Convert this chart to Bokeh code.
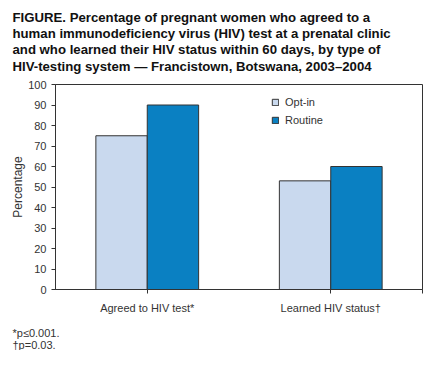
from bokeh.plotting import figure
from bokeh.models import Title, FixedTicker, Range1d, Legend, LegendItem
from bokeh.embed import file_html
from bokeh.resources import INLINE

categories = ["Agreed to HIV test*", "Learned HIV status\u2020"]
opt_in = [75, 53]
routine = [90, 60]
series_names = ["Opt-in", "Routine"]
y_ticks = [0, 10, 20, 30, 40, 50, 60, 70, 80, 90, 100]

title_lines = [
    "FIGURE. Percentage of pregnant women who agreed to a",
    "human immunodeficiency virus (HIV) test at a prenatal clinic",
    "and who learned their HIV status within 60 days, by type of",
    "HIV-testing system \u2014 Francistown, Botswana, 2003\u20132004",
]
footnotes = ["*p\u22640.001.", "\u2020p=0.03."]

FONT = "Liberation Sans"
DARK = "#333333"
C_OPT = "#c9d9ee"
C_ROUT = "#0a80c2"

p = figure(width=423, height=350, output_backend="svg", toolbar_location=None,
           x_range=Range1d(0, 2), y_range=Range1d(0, 100),
           min_border_left=55, min_border_right=1, min_border_top=84, min_border_bottom=61)

bw = 0.28
centers = [i + 0.5 for i in range(len(categories))]
x_opt = [c - bw / 2 for c in centers]
x_rout = [c + bw / 2 for c in centers]
r1 = p.vbar(x=x_opt, top=opt_in, width=bw, fill_color=C_OPT, line_color=DARK, line_width=1)
r2 = p.vbar(x=x_rout, top=routine, width=bw, fill_color=C_ROUT, line_color=DARK, line_width=1)

legend = Legend(items=[LegendItem(label=series_names[0], renderers=[r1]),
                       LegendItem(label=series_names[1], renderers=[r2])],
                location=(216, 162), orientation="vertical",
                glyph_width=8, glyph_height=8, label_height=14, spacing=4,
                padding=0, margin=0, border_line_color=None, background_fill_alpha=0,
                label_text_font=FONT, label_text_font_size="11px", label_text_color=DARK,
                label_standoff=6)
p.add_layout(legend, "center")

p.xgrid.visible = False
p.ygrid.visible = False
p.outline_line_color = DARK
p.outline_line_width = 1

p.yaxis.ticker = FixedTicker(ticks=y_ticks)
p.yaxis.axis_label = "Percentage"
p.yaxis.axis_label_text_font = FONT
p.yaxis.axis_label_text_font_style = "normal"
p.yaxis.axis_label_text_font_size = "12px"
p.yaxis.axis_label_text_color = DARK
p.yaxis.axis_label_standoff = 0
p.yaxis.major_label_text_font = FONT
p.yaxis.major_label_text_font_size = "11px"
p.yaxis.major_label_text_color = DARK
p.yaxis.major_label_standoff = 5

p.xaxis.ticker = FixedTicker(ticks=centers + [2.0])
p.xaxis.major_label_overrides = {centers[0]: categories[0], centers[1]: categories[1], 2.0: ""}
p.xaxis.major_label_text_font = FONT
p.xaxis.major_label_text_font_size = "11px"
p.xaxis.major_label_text_color = DARK
p.xaxis.major_label_standoff = 8

for ax in (p.xaxis[0], p.yaxis[0]):
    ax.axis_line_color = DARK
    ax.major_tick_line_color = DARK
    ax.major_tick_out = 4
    ax.major_tick_in = 0
    ax.minor_tick_line_color = None

# spacer between title block and plot frame
p.add_layout(Title(text=" ", text_font_size="1px", standoff=8), "above")
title_standoffs = [-1, -1, -1, 0]
for line, so in reversed(list(zip(title_lines, title_standoffs))):
    p.add_layout(Title(text=line, align="left", offset=-43, text_font=FONT,
                       text_font_size="13.2px", text_font_style="bold", text_color="#111111",
                       standoff=so), "above")

# spacer between x-axis labels and footnotes
p.add_layout(Title(text=" ", text_font_size="1px", standoff=5), "below")
foot_standoffs = [0, -3]
for line, so in zip(footnotes, foot_standoffs):
    p.add_layout(Title(text=line, align="left", offset=-43, text_font=FONT,
                       text_font_size="11px", text_font_style="normal", text_color=DARK,
                       standoff=so), "below")

open("out.html", "w").write(file_html(p, INLINE))
